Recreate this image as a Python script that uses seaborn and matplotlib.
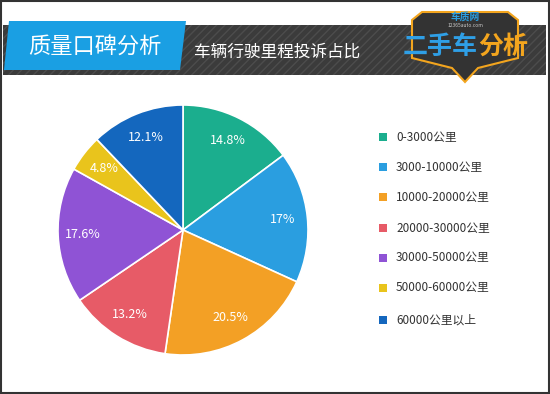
import matplotlib
matplotlib.use("Agg")
import matplotlib.pyplot as plt
from matplotlib.patches import Rectangle, Polygon
import numpy as np
import seaborn as sns

# mileage buckets and complaint shares (%)
categories = ["0-3000公里", "3000-10000公里", "10000-20000公里", "20000-30000公里",
              "30000-50000公里", "50000-60000公里", "60000公里以上"]
shares = [14.8, 17, 20.5, 13.2, 17.6, 4.8, 12.1]
share_labels = ["14.8%", "17%", "20.5%", "13.2%", "17.6%", "4.8%", "12.1%"]
colors = ["#1bae8e", "#2a9ee0", "#f3a025", "#e75b67", "#8f53d5", "#e9c41c", "#1467be"]

title = "质量口碑分析"
subtitle = "车辆行驶里程投诉占比"

sns.set_theme(style="white")
plt.rcParams['font.family'] = ['Noto Sans CJK SC', 'DejaVu Sans']

W, H = 550, 394
fig = plt.figure(figsize=(W / 100, H / 100), dpi=100)
fig.patch.set_facecolor("white")

# background layer in pixel coordinates (y from top)
bg = fig.add_axes([0, 0, 1, 1])
bg.set_xlim(0, W)
bg.set_ylim(H, 0)
bg.axis("off")

bg.add_patch(Rectangle((1, 1), W - 2, H - 2, fill=False, edgecolor="#333333", lw=1.5))
bg.add_patch(Rectangle((3, 25), 543, 50, facecolor="#3b3b3b", edgecolor="#4c4c4c",
                       hatch="////", lw=0))
bg.add_patch(Polygon([(9, 21), (186, 21), (180, 70), (4, 70)], closed=True,
                     facecolor="#1a9fe3", edgecolor="none"))
bg.text(95, 46, title, color="white", fontsize=16, ha="center", va="center")
bg.text(194, 52, subtitle, color="white", fontsize=12, ha="left", va="center")

# logo approximation
bg.add_patch(Polygon([(412, 20), (422, 12), (508, 12), (518, 20), (518, 58),
                      (478, 68), (465, 82), (452, 68), (412, 58)],
                     closed=True, facecolor="#333333", edgecolor="#f3a51e", lw=1.5))
bg.text(465, 17, "车质网", color="#2a9ee0", fontsize=7, ha="center", va="center",
        fontweight="bold")
bg.text(465, 25, "12365auto.com", color="#cccccc", fontsize=3.5, ha="center", va="center")
bg.text(478, 47, "二手车", color="#2f9fe6", fontsize=18, ha="right", va="center",
        fontweight="bold")
bg.text(478, 47, "分析", color="#f3a51e", fontsize=18, ha="left", va="center",
        fontweight="bold")

# pie: center (183, 230), radius 125 px
cx, cy, r = 183, 230, 125
ax = fig.add_axes([(cx - r) / W, (H - cy - r) / H, 2 * r / W, 2 * r / H])
wedges, _ = ax.pie(shares, colors=colors, startangle=90, counterclock=False,
                   wedgeprops=dict(edgecolor="white", linewidth=1.2))
ax.set_xlim(-1, 1)
ax.set_ylim(-1, 1)
ax.set_aspect("equal")
ax.axis("off")
for w in wedges:
    w.set_clip_on(False)

angle = 90.0
for val, lab in zip(shares, share_labels):
    mid = np.deg2rad(angle - val / 2 * 3.6)
    ax.text(0.8 * np.cos(mid), 0.8 * np.sin(mid), lab, color="white", fontsize=9,
            ha="center", va="center")
    angle -= val * 3.6

# legend
ys = [137, 167, 197, 228, 258, 288, 320]
for y, c, lab in zip(ys, colors, categories):
    bg.add_patch(Rectangle((379, y - 4.5), 8, 8, facecolor=c, edgecolor="none"))
    bg.text(396, y, lab, color="#333333", fontsize=8.5, ha="left", va="center")

fig.savefig("out.png", dpi=100)
